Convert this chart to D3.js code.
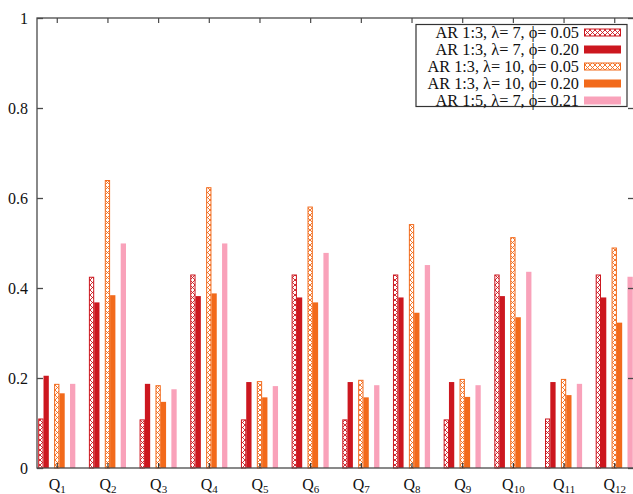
<!DOCTYPE html>
<html><head><meta charset="utf-8">
<script src="https://cdn.jsdelivr.net/npm/d3@7"></script>
<style>
html,body{margin:0;padding:0;background:#fff;}
svg{display:block;}
svg text{font-family:"Liberation Serif","Times New Roman",serif !important;}
</style></head>
<body>
<svg id="chart" width="633" height="494"></svg>
<script>
const categories = ["Q1","Q2","Q3","Q4","Q5","Q6","Q7","Q8","Q9","Q10","Q11","Q12"];
const seriesNames = ["AR 1:3, λ= 7, ϕ= 0.05","AR 1:3, λ= 7, ϕ= 0.20","AR 1:3, λ= 10, ϕ= 0.05","AR 1:3, λ= 10, ϕ= 0.20","AR 1:5, λ= 7, ϕ= 0.21"];
const ar13_l7_p005  = [0.110,0.425,0.108,0.430,0.108,0.430,0.108,0.430,0.108,0.430,0.110,0.430];
const ar13_l7_p020  = [0.205,0.368,0.187,0.382,0.191,0.379,0.191,0.379,0.191,0.382,0.191,0.379];
const ar13_l10_p005 = [0.187,0.640,0.184,0.624,0.193,0.581,0.196,0.542,0.198,0.513,0.198,0.490];
const ar13_l10_p020 = [0.166,0.384,0.147,0.388,0.157,0.368,0.157,0.345,0.158,0.335,0.162,0.323];
const ar15_l7_p021  = [0.187,0.499,0.175,0.499,0.182,0.478,0.184,0.451,0.184,0.436,0.187,0.425];
const yTicks = [0,0.2,0.4,0.6,0.8,1];
const yTickLabels = ["0","0.2","0.4","0.6","0.8","1"];

const seriesValues = [ar13_l7_p005, ar13_l7_p020, ar13_l10_p005, ar13_l10_p020, ar15_l7_p021];
// layout / style
const colors = ["#cc171f","#cc171f","#f26a1b","#f26a1b","#f9a2ba"];
const hatched = [true,false,true,false,false];
const slotOffsets = [-3,-2,0,1,3];
const slotW = 5.3;
const FONT = "'Liberation Serif','Times New Roman',serif";

const svg = d3.select("#chart");
const L = 37, R = 634, T = 18, B = 468;
const x = d3.scalePoint().domain(categories).range([L, R]).padding(0.39);
const y = d3.scaleLinear().domain([0,1]).range([B, T]);

const defs = svg.append("defs");
colors.forEach((c,i)=>{
  if(!hatched[i]) return;
  const p = defs.append("pattern").attr("id","hatch"+i)
    .attr("patternUnits","userSpaceOnUse").attr("width",5).attr("height",5);
  p.append("rect").attr("width",5).attr("height",5).attr("fill","#fff");
  p.append("path").attr("d","M0,0L5,5M5,0L0,5").attr("stroke",c).attr("stroke-width",0.9);
});

// bars
seriesValues.forEach((vals,si)=>{
  svg.append("g").selectAll("rect").data(vals).join("rect")
    .attr("x",(d,i)=>x(categories[i]) + (slotOffsets[si]-0.5)*slotW + (hatched[si]?0.5:0))
    .attr("width", hatched[si]? slotW-1 : slotW)
    .attr("y",d=>y(d) + (hatched[si]?0.5:0))
    .attr("height",d=>B - y(d) - (hatched[si]?0.5:0))
    .attr("fill", hatched[si] ? `url(#hatch${si})` : colors[si])
    .attr("stroke", hatched[si] ? colors[si] : "none")
    .attr("stroke-width", 1);
});

// border
const axisColor = "#4a4a4a";
svg.append("rect").attr("x",L).attr("y",T).attr("width",R-L).attr("height",B-T)
  .attr("fill","none").attr("stroke",axisColor).attr("stroke-width",1.3);

// y axis
const yAxis = d3.axisLeft(y).tickValues(yTicks).tickSize(-6).tickPadding(9)
  .tickFormat((d,i)=>yTickLabels[i]);
const gy = svg.append("g").attr("transform",`translate(${L},0)`).call(yAxis)
  .attr("font-family",FONT);
gy.select(".domain").remove();
gy.selectAll(".tick line").attr("stroke",axisColor).attr("stroke-width",1.3);
gy.selectAll(".tick text").attr("font-size",16).attr("fill","#111")
  .style("font-family",FONT);

// right mirror ticks
const yAxisR = d3.axisRight(y).tickValues(yTicks).tickSize(-6).tickFormat("");
const gyr = svg.append("g").attr("transform",`translate(${R},0)`).call(yAxisR);
gyr.select(".domain").remove();
gyr.selectAll(".tick line").attr("stroke",axisColor).attr("stroke-width",1.3);

// x axis
const xAxis = d3.axisBottom(x).tickSize(-5).tickFormat("");
const gx = svg.append("g").attr("transform",`translate(0,${B})`).call(xAxis)
  .attr("font-family",FONT);
gx.select(".domain").remove();
gx.selectAll(".tick line").attr("stroke","#333").attr("stroke-width",1.2);
gx.selectAll(".tick").append("text")
  .attr("y",21.5).attr("text-anchor","middle").attr("fill","#111")
  .attr("font-size",16).style("font-family",FONT)
  .each(function(d){
    const t = d3.select(this);
    t.append("tspan").text(d.charAt(0));
    t.append("tspan").attr("font-size",11).attr("dy",3).text(d.slice(1));
  });

// top mirror ticks
const xAxisT = d3.axisTop(x).tickSize(-5).tickFormat("");
const gxt = svg.append("g").attr("transform",`translate(0,${T})`).call(xAxisT);
gxt.select(".domain").remove();
gxt.selectAll(".tick line").attr("stroke",axisColor).attr("stroke-width",1.2);

// legend
const lg = svg.append("g").attr("font-family",FONT);
lg.append("rect").attr("x",416).attr("y",24.5).attr("width",211).attr("height",82)
  .attr("fill","#fff").attr("stroke","#333").attr("stroke-width",1.2);
seriesNames.forEach((name,i)=>{
  const cy = 32.5 + i*17;
  lg.append("text").attr("x",579).attr("y",cy+5).attr("text-anchor","end")
    .attr("font-size",16.3).attr("fill","#111").style("font-family",FONT).text(name);
  lg.append("rect").attr("x",hatched[i]?584.5:584).attr("y",cy-4+(hatched[i]?0.5:0))
    .attr("width",hatched[i]?36:37).attr("height",hatched[i]?7:8)
    .attr("fill", hatched[i] ? `url(#hatch${i})` : colors[i])
    .attr("stroke", hatched[i] ? colors[i] : "none").attr("stroke-width",1);
});
</script>
</body></html>
